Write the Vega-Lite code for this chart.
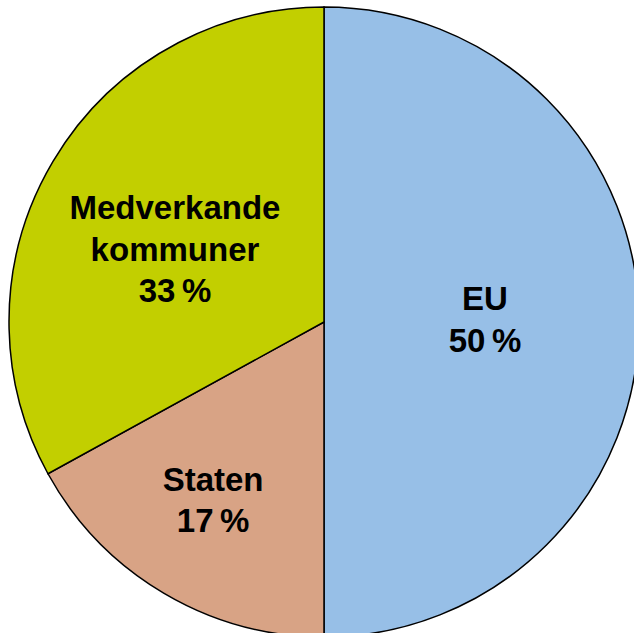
{
  "$schema": "https://vega.github.io/schema/vega-lite/v6.json",
  "width": 634,
  "height": 633,
  "autosize": "none",
  "padding": 0,
  "background": "white",
  "view": {"stroke": null},
  "data": {
    "values": [
      {"category": "EU", "value": 50, "rank": 1, "label": "EU\n50\u2009%"},
      {"category": "Staten", "value": 17, "rank": 2, "label": "Staten\n17\u2009%"},
      {"category": "Medverkande kommuner", "value": 33, "rank": 3, "label": "Medverkande\nkommuner\n33\u2009%"}
    ]
  },
  "encoding": {
    "theta": {"field": "value", "type": "quantitative", "stack": true},
    "order": {"field": "rank", "type": "quantitative"}
  },
  "layer": [
    {
      "mark": {"type": "arc", "outerRadius": 315, "x": 324, "y": 322, "stroke": "black", "strokeWidth": 1.5},
      "encoding": {
        "color": {
          "field": "category",
          "type": "nominal",
          "scale": {"domain": ["EU", "Staten", "Medverkande kommuner"], "range": ["#97BFE7", "#D8A385", "#C2CF00"]},
          "legend": null
        }
      }
    },
    {
      "mark": {"type": "text", "radius": 161, "x": 324, "y": 322, "dy": -22, "font": "Liberation Sans", "fontWeight": "bold", "fontSize": 33, "lineHeight": 42, "lineBreak": "\n", "align": "center", "baseline": "middle", "color": "black"},
      "encoding": {
        "text": {"condition": {"test": "datum.category === 'EU'", "field": "label", "type": "nominal"}, "value": ""}
      }
    },
    {
      "mark": {"type": "text", "radius": 210, "x": 324, "y": 322, "dx": -4, "dy": -22, "font": "Liberation Sans", "fontWeight": "bold", "fontSize": 33, "lineHeight": 41, "lineBreak": "\n", "align": "center", "baseline": "middle", "color": "black"},
      "encoding": {
        "text": {"condition": {"test": "datum.category === 'Staten'", "field": "label", "type": "nominal"}, "value": ""}
      }
    },
    {
      "mark": {"type": "text", "radius": 165, "x": 324, "y": 322, "dx": -7, "dy": -29, "font": "Liberation Sans", "fontWeight": "bold", "fontSize": 33, "lineHeight": 41.5, "lineBreak": "\n", "align": "center", "baseline": "middle", "color": "black"},
      "encoding": {
        "text": {"condition": {"test": "datum.category === 'Medverkande kommuner'", "field": "label", "type": "nominal"}, "value": ""}
      }
    }
  ]
}
